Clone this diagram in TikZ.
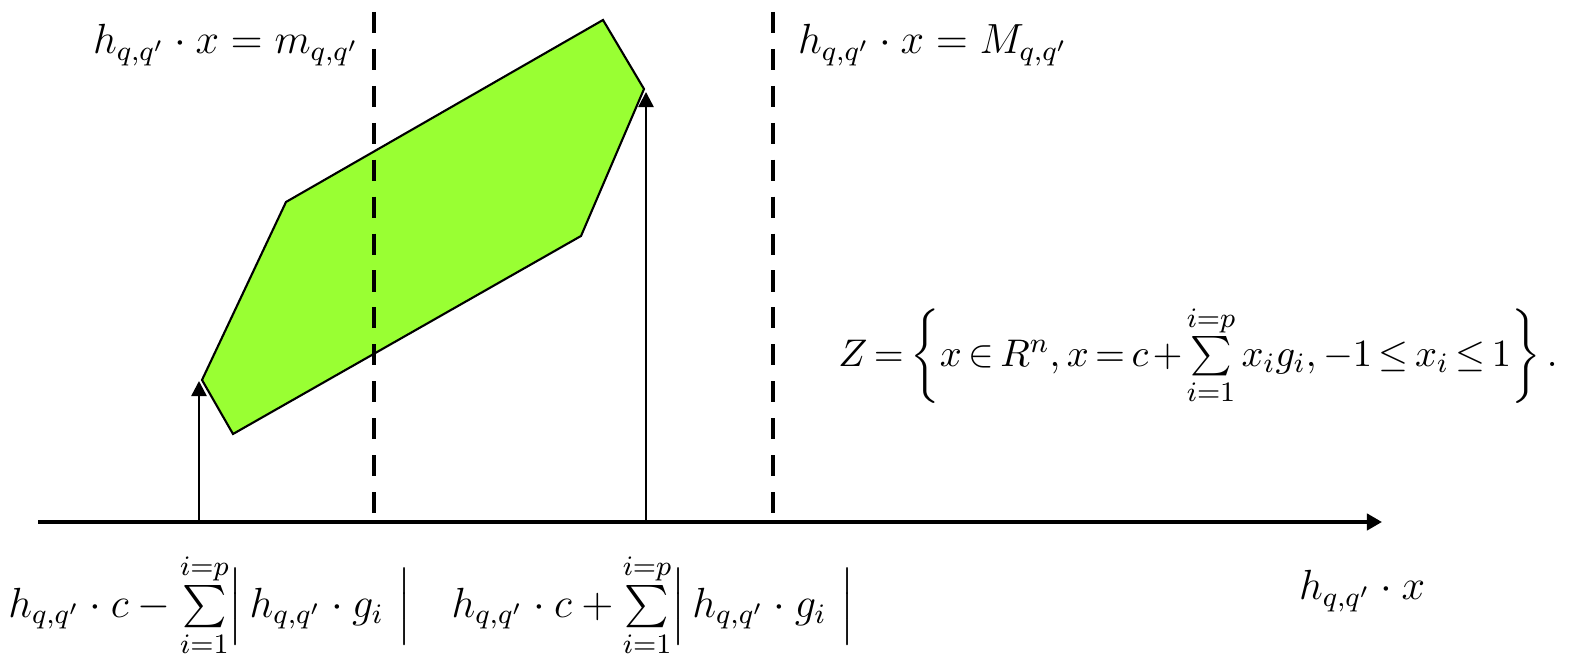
\documentclass[tikz,border=0pt]{standalone}
\usepackage{amsmath,amssymb}
\usepackage{tikz}
\usetikzlibrary{arrows.meta}
\definecolor{zonogreen}{RGB}{153,255,51}

\begin{document}
\begin{tikzpicture}[x=0.01cm,y=-0.01cm,font=\fontsize{12}{14}\selectfont]
\useasboundingbox (0,0) rectangle (1571,662);
\coordinate (v1) at (603,20); \coordinate (v2) at (644,89); \coordinate (v3) at (581,236);
\coordinate (v4) at (233,434); \coordinate (v5) at (202,380); \coordinate (v6) at (286,202);
\filldraw[fill=zonogreen,draw=black,line width=0.6pt,line join=miter] (v1)--(v2)--(v3)--(v4)--(v5)--(v6)--cycle;
\coordinate (axS) at (38,522); \coordinate (axE) at (1382,522);
\draw[line width=1.4pt,-{Triangle[length=4.3pt,width=4.6pt]}] (axS)--(axE);
\coordinate (mTop) at (374,12); \coordinate (mBot) at (374,520);
\coordinate (MTop) at (773,12); \coordinate (MBot) at (773,520);
\draw[line width=1.4pt,dash pattern=on 6pt off 4.5pt] (mTop)--(mBot);
\draw[line width=1.4pt,dash pattern=on 6pt off 4.5pt] (MTop)--(MBot);
\coordinate (lo) at (199,522); \coordinate (loTip) at (199,381);
\coordinate (hi) at (646,522); \coordinate (hiTip) at (646,92);
\draw[line width=0.7pt,-{Triangle[length=4.3pt,width=4.3pt]}] (lo)--(loTip);
\draw[line width=0.7pt,-{Triangle[length=4.3pt,width=4.3pt]}] (hi)--(hiTip);
\node (mlab) at (226,45) {$h_{q,q'}\cdot x=m_{q,q'}$};
\node (Mlab) at (933,45) {$h_{q,q'}\cdot x=M_{q,q'}$};
\node[font=\fontsize{11.2}{13}\selectfont] (zlab) at (1198,355) {\thickmuskip=3mu\medmuskip=2mu$Z=\left\{x\in R^n, x=c+\sum\limits_{i=1}^{i=p}x_ig_i, -1\le x_i\le 1\right\}.$};
\node (lolab) at (210,605) {$h_{q,q'}\cdot c-\sum\limits_{i=1}^{i=p}\Bigl|\, h_{q,q'}\cdot g_i\ \Bigr|$};
\node (hilab) at (653,605) {$h_{q,q'}\cdot c+\sum\limits_{i=1}^{i=p}\Bigl|\, h_{q,q'}\cdot g_i\ \Bigr|$};
\node (axlab) at (1362,591) {$h_{q,q'}\cdot x$};
\end{tikzpicture}
\end{document}
